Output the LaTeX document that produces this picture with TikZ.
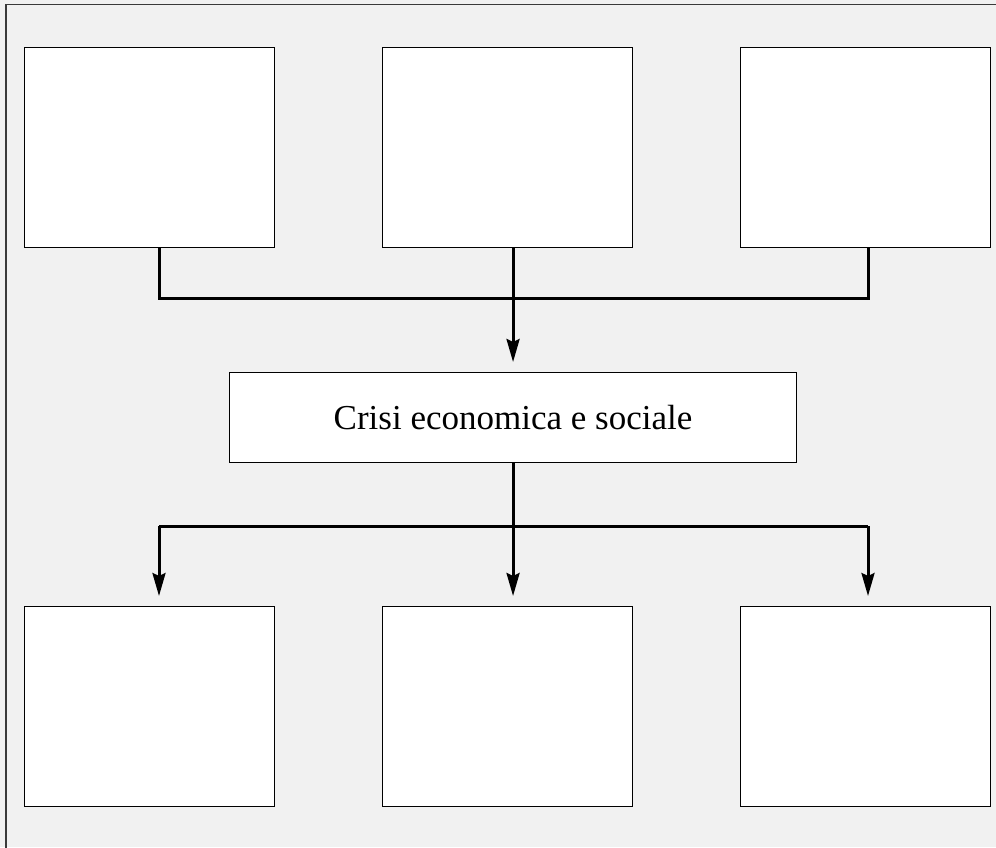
\documentclass[tikz,border=0pt]{standalone}
\usepackage{fontspec}
\setmainfont{Liberation Serif}
\usetikzlibrary{arrows.meta,positioning}
\definecolor{bg}{HTML}{F1F1F1}
\definecolor{frame}{HTML}{3A3A3A}
\begin{document}
\begin{tikzpicture}[x=1pt,y=-1pt,
  emptybox/.style={draw=black,line width=1.1pt,fill=white,minimum width=250pt,minimum height=200pt,inner sep=0pt,anchor=north west},
  centerbox/.style={draw=black,line width=1.1pt,fill=white,minimum width=567pt,minimum height=90pt,inner sep=0pt,anchor=north west,font=\fontsize{35}{40}\selectfont},
  conn/.style={line width=3pt,black},
  arr/.style={conn,-{Stealth[length=23pt,width=13pt,inset=3pt]}}]
\fill[bg] (0,0) rectangle (996,847);
\useasboundingbox (0,0) rectangle (996,847);
\begin{scope}
\clip (0,0) rectangle (996,847);
\draw[frame,line width=1.6pt] (6,870) -- (6,4.5) -- (1010,4.5);
\end{scope}
% top boxes
\node[emptybox] (t1) at (24,46.5) {};
\node[emptybox] (t2) at (382,46.5) {};
\node[emptybox] (t3) at (740,46.5) {};
% centre box
\node[centerbox] (c) at (229,372) {Crisi economica e sociale};
% bottom boxes
\node[emptybox] (b1) at (24,606) {};
\node[emptybox] (b2) at (382,606) {};
\node[emptybox] (b3) at (740,606) {};
% junctions
\coordinate (j1) at (159,298);
\coordinate (j3) at (868,298);
\coordinate (k1) at (159,526);
\coordinate (k3) at (868,526);
% top connectors
\draw[conn] (t1.south -| j1) -- (j1) -- (j3) -- (t3.south -| j3);
\draw[arr] (t2.south -| c.north) -- ([yshift=10pt]c.north);
% bottom connectors
\draw[conn] (k1) -- (k3);
\draw[conn] (c.south) -- (c.south |- k1);
\draw[arr] (k1) -- ([yshift=10pt]b1.north -| k1);
\draw[arr] (c.south |- k1) -- ([yshift=10pt]b2.north -| c.south);
\draw[arr] (k3) -- ([yshift=10pt]b3.north -| k3);
\end{tikzpicture}
\end{document}
